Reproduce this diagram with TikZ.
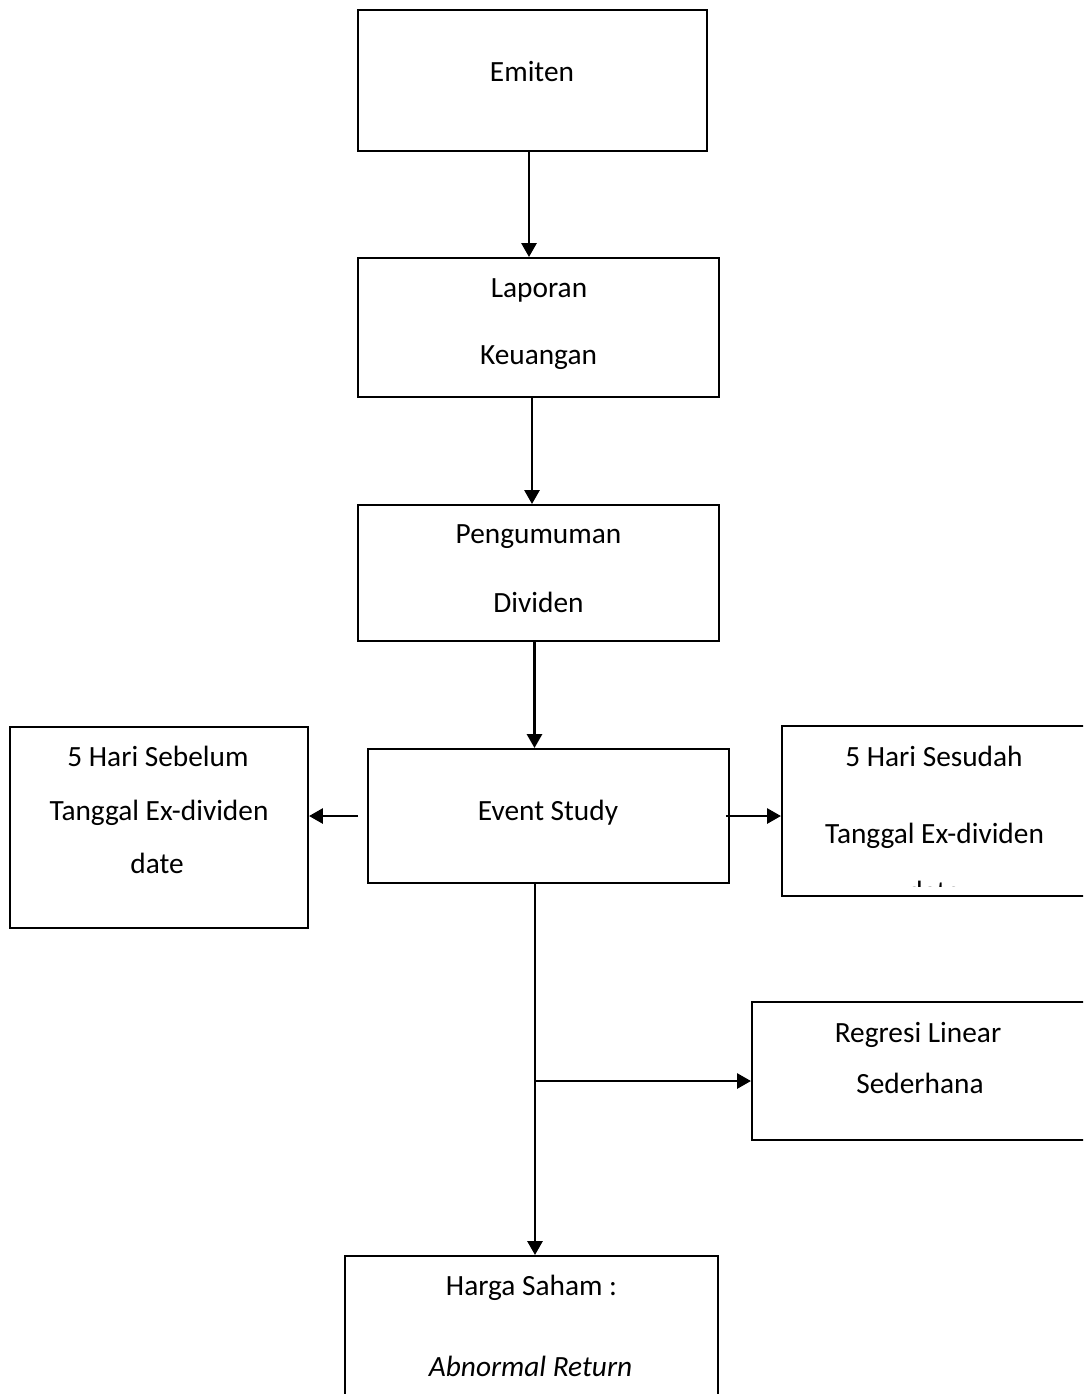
\documentclass[tikz,border=0pt]{standalone}
\usepackage{fontspec}
\setmainfont{Carlito}
\usetikzlibrary{arrows.meta,fit}

\tikzset{
  box/.style={draw, line width=1.1pt, inner sep=0pt},
  txt/.style={anchor=base, inner sep=0pt, font=\fontsize{16.7}{20}\selectfont},
  arr/.style={->, line width=1.6pt},
}

\begin{document}
\begin{tikzpicture}[x=0.02cm, y=-0.02cm, >={Triangle[length=0.28cm, width=0.3cm]}]

\def\px{0.02cm}

\useasboundingbox (0,0) rectangle (1083,1394);
\clip (0,0) rectangle (1083,1394);

% _____ Main column
\node[box, fit={(358,10) (707,151)}] (emiten) {};
\node[txt] (emitenA) at (532,81) {Emiten};

\node[box, fit={(358,258) (719,397)}] (laporan) {};
\node[txt] (laporanA) at (539,297) {Laporan};
\node[txt] (laporanB) at (538.5,364) {Keuangan};

\node[box, fit={(358,505) (719,641)}] (pengumuman) {};
\node[txt] (pengumumanA) at (538.5,543) {Pengumuman};
\node[txt] (pengumumanB) at (538.5,612) {Dividen};

\node[box, fit={(368,749) (729,883)}] (event) {};
\node[txt] (eventA) at (548,820) {Event Study};

\node[box, fit={(345,1256) (718,1430)}] (harga) {};
\node[txt] (hargaA) at (531.5,1295) {Harga Saham :};
\node[txt] (hargaB) at (530.5,1376) {\itshape Abnormal Return};

% _____ Side boxes
\node[box, fit={(10,727) (308,928)}] (sebelum) {};
\node[txt] (sebelumA) at (158,766) {5 Hari Sebelum};
\node[txt] (sebelumB) at (159,820) {Tanggal Ex-dividen};
\node[txt] (sebelumC) at (157,873) {date};

\node[box, fit={(782,726) (1100,896)}] (sesudah) {};
\node[txt] (sesudahA) at (934,766) {5 Hari Sesudah};
\node[txt] (sesudahB) at (934.5,843) {Tanggal Ex-dividen};
\begin{scope}
  \clip (782,726) rectangle (1083,886);
  \node[txt] (sesudahC) at (934,901) {date};
\end{scope}

\node[box, fit={(752,1002) (1100,1140)}] (regresi) {};
\node[txt] (regresiA) at (918,1042) {Regresi Linear};
\node[txt] (regresiB) at (920,1093) {Sederhana};

% _____ Connectors
\draw[arr] ([xshift=-3.5*\px]emiten.south) -- ([xshift=-3.5*\px]emiten.south |- laporan.north);
\draw[arr] ([xshift=-6.5*\px]laporan.south) -- ([xshift=-6.5*\px]laporan.south |- pengumuman.north);
\draw[arr] ([xshift=-4*\px]pengumuman.south) -- ([xshift=-4*\px]pengumuman.south |- event.north);

\draw[arr] ([xshift=-9*\px]event.west) -- (event.west -| sebelum.east);
\draw[arr] ([xshift=-4*\px]event.east) -- (event.east -| sesudah.west);

\draw[arr] ([xshift=-13.5*\px]event.south) -- ([xshift=-13.5*\px]event.south |- harga.north);
\coordinate (split) at ([xshift=-13.5*\px]event.south |- 0,1081);
\draw[arr] (split) -- (split -| regresi.west);

\end{tikzpicture}
\end{document}
